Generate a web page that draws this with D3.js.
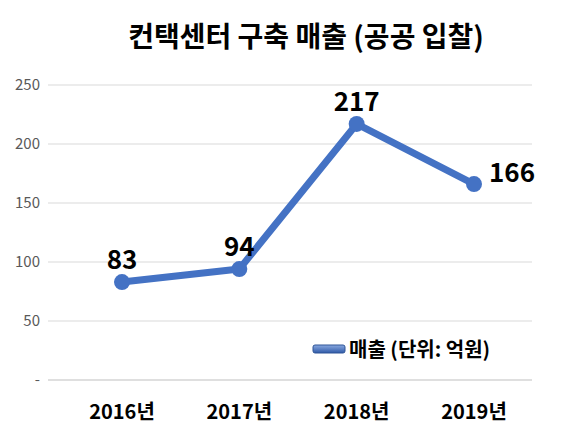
<!DOCTYPE html><html><head><meta charset="utf-8"><script src="https://d3js.org/d3.v7.min.js"></script>
<style>body{margin:0;background:#fff}</style></head><body><svg id="c" width="580" height="448"></svg>
<script>
const categories=["2016년","2017년","2018년","2019년"];
const values=[83,94,217,166];
const yTicks=[0,50,100,150,200,250];
const yTickLabels=["-","50","100","150","200","250"];
const svg=d3.select("#c");
const font="'Noto Sans CJK KR','Noto Sans',sans-serif";
const x=d3.scalePoint().domain(categories).range([122,474]);
const y=d3.scaleLinear().domain([0,250]).range([380,85]);
svg.append("text").attr("x",306).attr("y",47).attr("text-anchor","middle").attr("font-family",font).attr("font-weight","bold").attr("font-size",28).text("컨택센터 구축 매출 (공공 입찰)");
yTicks.forEach((t,i)=>{
  svg.append("line").attr("x1",48).attr("x2",532).attr("y1",y(t)).attr("y2",y(t)).attr("stroke",t===0?"#bfbfbf":"#d9d9d9").attr("stroke-width",1);
  svg.append("text").attr("x",40).attr("y",y(t)+5).attr("text-anchor","end").attr("font-family",font).attr("font-size",15).attr("fill","#595959").text(yTickLabels[i]);
});
categories.forEach(c=>svg.append("text").attr("x",x(c)).attr("y",419).attr("text-anchor","middle").attr("font-family",font).attr("font-weight","bold").attr("font-size",20).text(c));
const line=d3.line().x((d,i)=>x(categories[i])).y(d=>y(d));
svg.append("path").datum(values).attr("d",line).attr("fill","none").attr("stroke","#4472C4").attr("stroke-width",7).attr("stroke-linejoin","round");
svg.selectAll("circle").data(values).enter().append("circle").attr("cx",(d,i)=>x(categories[i])).attr("cy",d=>y(d)).attr("r",8).attr("fill","#4472C4");
values.forEach((v,i)=>{
  const last=i===values.length-1;
  svg.append("text").attr("x",last?x(categories[i])+38:x(categories[i])).attr("y",last?y(v)-2:y(v)-13)
    .attr("text-anchor","middle").attr("font-family",font).attr("font-weight","bold").attr("font-size",26).text(v);
});
const g=svg.append("defs").append("linearGradient").attr("id","lg").attr("x1",0).attr("y1",0).attr("x2",0).attr("y2",1);
g.append("stop").attr("offset","0%").attr("stop-color","#8aa9e0");g.append("stop").attr("offset","100%").attr("stop-color","#2f5aa8");
svg.append("rect").attr("x",313).attr("y",345).attr("width",32).attr("height",8).attr("rx",2).attr("fill","url(#lg)").attr("stroke","#2f5597");
svg.append("text").attr("x",349).attr("y",357).attr("font-family",font).attr("font-weight","bold").attr("font-size",20).text("매출 (단위: 억원)");
</script></body></html>
